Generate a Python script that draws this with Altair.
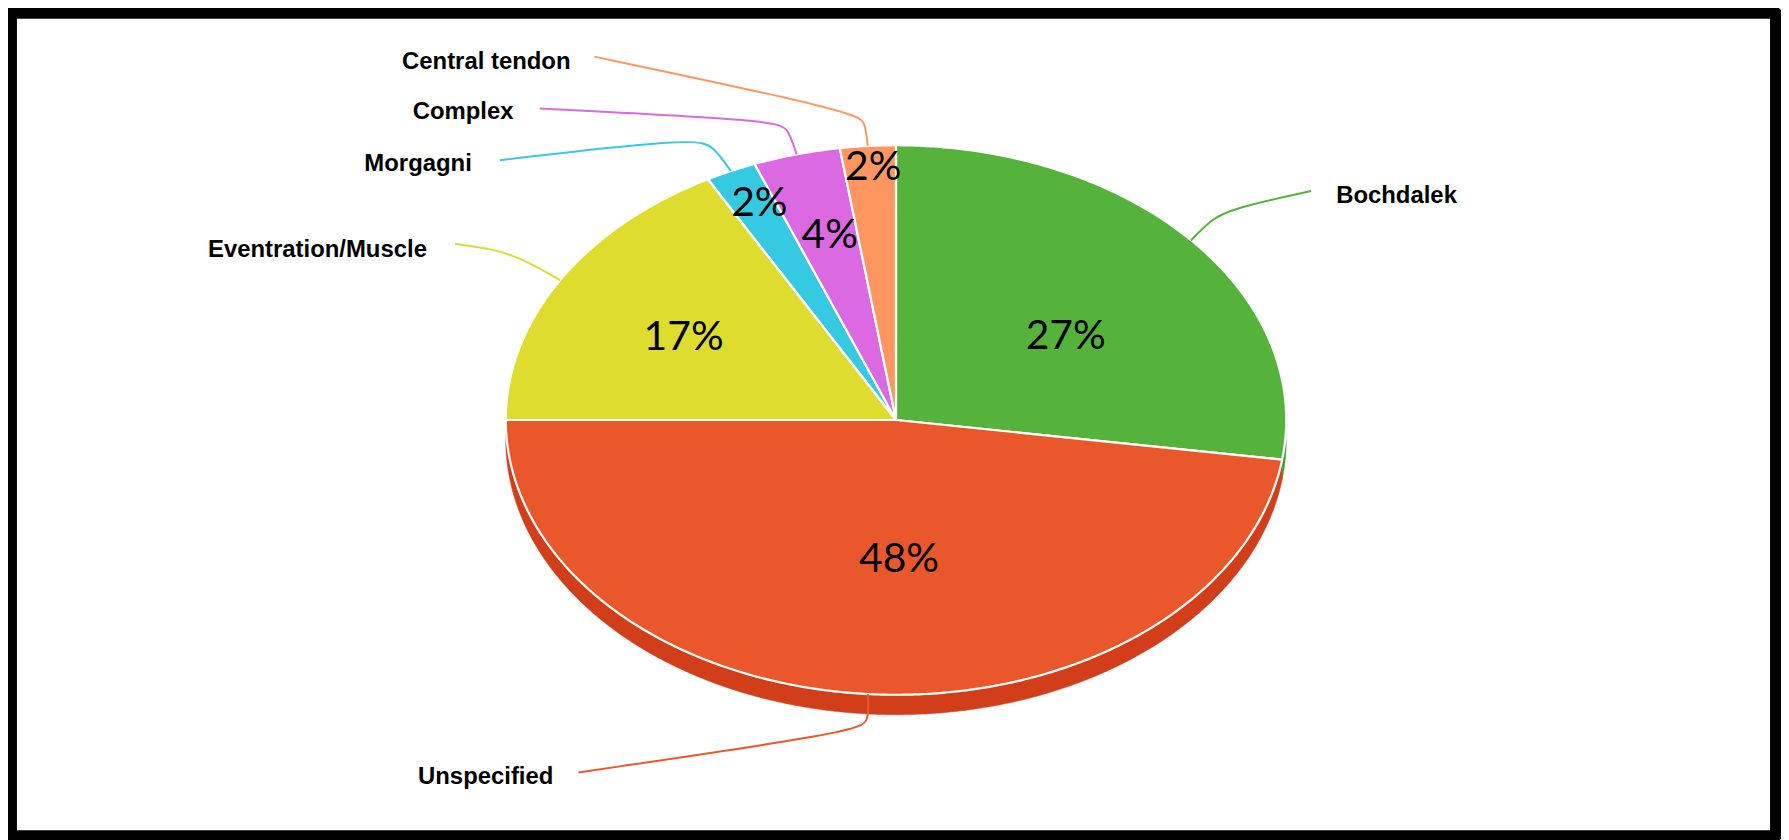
import math
import altair as alt
import numpy as np
import pandas as pd

# ---------------- data ----------------
categories = ["Bochdalek", "Unspecified", "Eventration/Muscle", "Morgagni", "Complex", "Central tendon"]
values = [27.3, 47.7, 17.0, 2.1, 3.6, 2.3]

# ---------------- style / layout ----------------
top_colors = ["#55B33B", "#EA572A", "#DDDC2F", "#35CAE1", "#DA69E2", "#FD975F"]
side_colors = ["#3F9A28", "#D23E1A", "#C4C31C", "#1FB0C6", "#C252CA", "#E87E45"]

W, H = 1781, 832               # whole chart (page x 8..1789, y 8..840)
CX, CY = 892, 412              # pie centre in chart pixels
RX, RY = 392, 276              # ellipse radii (tilted pie)
DEPTH = 20 / RY                # thickness of the pie edge, in unit-y

# label anchor positions (unit coords: u right, v up; 1 = pie radius)
name_u = [1.128, -0.878, -1.202, -1.087, -0.980, -0.834]
name_v = [0.815, -1.301, 0.620, 0.931, 1.120, 1.304]
name_align = ["left", "right", "right", "right", "right", "right"]
# leader elbows and ends (unit coords)
elb1 = [(0.8036, 0.7246), (-0.0689, -1.0942), (-0.9566, 0.587), (-0.4668, 0.9928), (-0.2755, 1.058), (-0.0791, 1.0797)]
elb2 = [(0.8546, 0.7681), (-0.0969, -1.134), (-1.0332, 0.6232), (-0.5102, 1.029), (-0.3061, 1.0906), (-0.0969, 1.1196)]
lend = [(1.0638, 0.8333), (-0.8138, -1.2826), (-1.1301, 0.6413), (-1.0153, 0.9457), (-0.9133, 1.1341), (-0.773, 1.3225)]
# percent label radius (fraction of pie radius) and angular nudge (degrees)
pct_r = [0.53, 0.51, 0.62, 0.86, 0.69, 0.92]
pct_off = [6.0, -5.0, -2.0, 1.0, 0.5, 0.5]

XD = [-CX / RX, (W - CX) / RX]
YD = [-(H - CY) / RY, CY / RY]

# ---------------- derived tables ----------------
total = sum(values)
cum = np.concatenate([[0.0], np.cumsum(values) / total])

top_rows, side_rows, lead_rows, pct_rows, name_rows = [], [], [], [], []
for i, name in enumerate(categories):
    s, e = cum[i], cum[i + 1]
    n = max(4, int((e - s) * 720) + 2)
    ts = np.linspace(s, e, n)
    pts = [(0.0, 0.0)] + [(math.sin(2 * math.pi * t), math.cos(2 * math.pi * t)) for t in ts] + [(0.0, 0.0)]
    for k, (u, v) in enumerate(pts):
        top_rows.append(dict(slice=name, k=k, u=u, v=v))
    a, b = max(s, 0.25), min(e, 0.75)
    if b > a:
        tt = np.linspace(a, b, max(4, int((b - a) * 720) + 2))
        ring = [(math.sin(2 * math.pi * t), math.cos(2 * math.pi * t)) for t in tt]
        ring += [(math.sin(2 * math.pi * t), math.cos(2 * math.pi * t) - DEPTH) for t in tt[::-1]]
        for k, (u, v) in enumerate(ring):
            side_rows.append(dict(side=name, k=k, u=u, v=v))
    m = (s + e) / 2
    anchor = (math.sin(2 * math.pi * m), math.cos(2 * math.pi * m))
    for k, (u, v) in enumerate([anchor, elb1[i], elb2[i], lend[i]]):
        lead_rows.append(dict(lead=name, k=k, u=u, v=v))
    ang = 2 * math.pi * m + math.radians(pct_off[i])
    pct_rows.append(dict(name=name, label=f"{round(values[i] / total * 100)}%",
                         u=pct_r[i] * math.sin(ang), v=pct_r[i] * math.cos(ang)))
    name_rows.append(dict(name=name, u=name_u[i], v=name_v[i], align=name_align[i]))

top_df = pd.DataFrame(top_rows)
side_df = pd.DataFrame(side_rows)
lead_df = pd.DataFrame(lead_rows)
pct_df = pd.DataFrame(pct_rows)
name_df = pd.DataFrame(name_rows)

xenc = alt.X("u:Q", scale=alt.Scale(domain=XD, nice=False, zero=False), axis=None)
yenc = alt.Y("v:Q", scale=alt.Scale(domain=YD, nice=False, zero=False), axis=None)

frame = alt.Chart(pd.DataFrame({"a": [0]})).mark_rect(
    fill="white", stroke="black", strokeWidth=14, cornerRadius=7
).encode(x=alt.value(2), x2=alt.value(1777), y=alt.value(2), y2=alt.value(831))

sides = alt.Chart(side_df).mark_line(strokeWidth=0.5, strokeJoin="round").encode(
    x=xenc, y=yenc, order="k:Q", detail="side:N",
    fill=alt.Fill("side:N", scale=alt.Scale(domain=categories, range=side_colors), legend=None),
    stroke=alt.Stroke("side:N", scale=alt.Scale(domain=categories, range=side_colors), legend=None),
)

tops = alt.Chart(top_df).mark_line(stroke="white", strokeWidth=2.2, strokeJoin="round").encode(
    x=xenc, y=yenc, order="k:Q", detail="slice:N",
    fill=alt.Fill("slice:N", scale=alt.Scale(domain=categories, range=top_colors), legend=None),
)

leaders = alt.Chart(lead_df).mark_line(interpolate="basis", strokeWidth=2).encode(
    x=xenc, y=yenc, order="k:Q", detail="lead:N",
    stroke=alt.Stroke("lead:N", scale=alt.Scale(domain=categories, range=top_colors), legend=None),
)

name_right = alt.Chart(name_df).transform_filter(alt.datum.align == "right").mark_text(
    font="Liberation Sans", fontWeight="bold", fontSize=24, align="right", baseline="middle", color="black"
).encode(x=xenc, y=yenc, text="name:N")

name_left = alt.Chart(name_df).transform_filter(alt.datum.align == "left").mark_text(
    font="Liberation Sans", fontWeight="bold", fontSize=24, align="left", baseline="middle", color="black"
).encode(x=xenc, y=yenc, text="name:N")

pcts = alt.Chart(pct_df).mark_text(
    font="Lato", fontSize=41, align="center", baseline="middle", color="black"
).encode(x=xenc, y=yenc, text="label:N")

chart = alt.layer(frame, sides, tops, leaders, name_right, name_left, pcts).resolve_scale(
    fill="independent", stroke="independent"
).properties(
    width=W, height=H, padding=0, autosize=alt.AutoSizeParams(type="none"), background="white"
).configure_view(stroke="transparent")

chart.save("out.html", embed_options={"renderer": "svg", "actions": False})
